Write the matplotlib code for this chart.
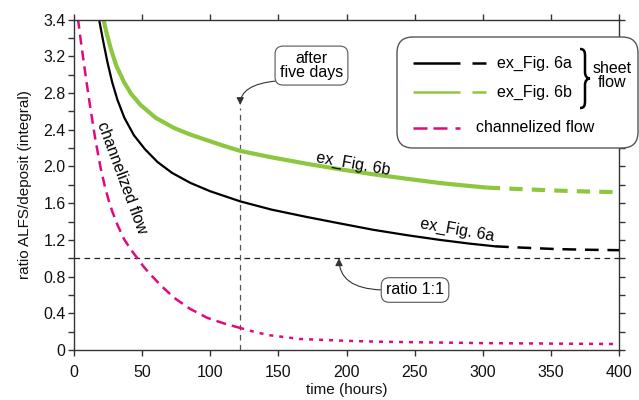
import numpy as np
import matplotlib
matplotlib.use('Agg')
import matplotlib.pyplot as plt
from matplotlib.ticker import MultipleLocator
from matplotlib.lines import Line2D
from matplotlib.patches import FancyBboxPatch, PathPatch
from matplotlib.path import Path

plt.rcParams['font.family'] = ['Liberation Sans', 'DejaVu Sans']

# ex_Fig. 6a (black), solid part then dashed tail
t_6a = [18.3, 21.5, 24.5, 28, 31.8, 37, 44, 52, 61.2, 72, 85.6, 100, 122, 145, 170.8, 195, 219.7, 245, 268.6, 290, 309]
v_6a = [3.61, 3.36, 3.14, 2.92, 2.73, 2.53, 2.34, 2.19, 2.05, 1.93, 1.82, 1.73, 1.62, 1.53, 1.45, 1.38, 1.31, 1.25, 1.20, 1.16, 1.13]
t_6a_tail = [309, 330, 354, 375, 400]
v_6a_tail = [1.13, 1.115, 1.10, 1.093, 1.088]

# ex_Fig. 6b (green)
t_6b = [21.5, 24, 26.9, 31, 36.7, 42, 48.9, 60, 73.4, 85, 97.9, 110, 122, 145, 170.8, 195, 219.7, 245, 268.6, 285, 303]
v_6b = [3.61, 3.45, 3.29, 3.10, 2.92, 2.79, 2.67, 2.53, 2.42, 2.35, 2.285, 2.225, 2.17, 2.10, 2.03, 1.97, 1.915, 1.865, 1.82, 1.795, 1.77]
t_6b_tail = [303, 330, 354, 375, 400]
v_6b_tail = [1.77, 1.752, 1.738, 1.728, 1.72]

# channelized flow (magenta)
t_ch = [2.9, 5, 7.3, 9.5, 12.2, 15.5, 19.6, 23, 25.7, 28.1, 32, 36.7, 41, 46.5, 51, 56.3, 64, 73.4, 85, 97.9, 110, 122]
v_ch = [3.61, 3.37, 3.12, 2.89, 2.62, 2.31, 1.98, 1.76, 1.62, 1.51, 1.36, 1.21, 1.11, 1.00, 0.91, 0.82, 0.70, 0.57, 0.45, 0.35, 0.29, 0.24]
t_ch_tail = [122, 133, 144, 155, 166, 183, 200, 225, 250, 275, 300, 350, 400]
v_ch_tail = [0.24, 0.195, 0.16, 0.14, 0.12, 0.11, 0.10, 0.09, 0.085, 0.08, 0.075, 0.07, 0.065]

ratio_level = 1.0
five_days = 122
five_days_top = 2.64

yticks = [0, 0.4, 0.8, 1.2, 1.6, 2.0, 2.4, 2.8, 3.2, 3.6]
yticklabels = ['0', '0.4', '0.8', '1.2', '1.6', '2.0', '2.4', '2.8', '3.2', '3.4']
xticks = [0, 50, 100, 150, 200, 250, 300, 350, 400]

green = '#8dc63f'
magenta = '#e2097c'
spine = '#333333'

fig = plt.figure(figsize=(6.39, 4.0), dpi=100)
ax = fig.add_axes([74 / 639, 1 - 350 / 400, (619 - 74) / 639, (350 - 19.7) / 400])

ax.plot(t_6a, v_6a, color='black', lw=1.6, solid_capstyle='butt')
ax.plot(t_6a_tail, v_6a_tail, color='black', lw=1.8, linestyle=(0, (5.5, 3.5)))
ax.plot(t_6b, v_6b, color=green, lw=3.0, solid_capstyle='butt')
ax.plot(t_6b_tail, v_6b_tail, color=green, lw=3.0, linestyle=(0, (3.2, 2.2)))
ax.plot(t_ch, v_ch, color=magenta, lw=1.8, linestyle=(0, (4, 2.4)))
ax.plot(t_ch_tail, v_ch_tail, color=magenta, lw=1.8, linestyle=(0, (1.6, 2.4)))

ax.axhline(ratio_level, color='#222222', lw=0.9, linestyle=(0, (4.5, 3.5)), zorder=1)
ax.plot([five_days, five_days], [0, five_days_top], color='#555555', lw=0.9,
        linestyle=(0, (4.5, 3.5)), zorder=1)

ax.set_xlim(0, 400)
ax.set_ylim(0, 3.6)
ax.set_xticks(xticks)
ax.set_xticklabels([str(x) for x in xticks])
ax.set_yticks(yticks)
ax.set_yticklabels(yticklabels)
ax.yaxis.set_minor_locator(MultipleLocator(0.2))
for s in ax.spines.values():
    s.set_color(spine)
    s.set_linewidth(1.0)
ax.tick_params(which='both', direction='out', length=4, width=1.0, color=spine,
               top=True, right=True, labelsize=11.5, labelcolor='#111111')
ax.tick_params(axis='x', pad=7)
ax.tick_params(axis='y', pad=2)
ax.set_xlabel('time (hours)', fontsize=11, labelpad=2, color='#111111')
ax.set_ylabel('ratio ALFS/deposit (integral)', fontsize=11, labelpad=8, color='#111111')

# in-plot labels
ax.text(205, 2.03, 'ex_Fig. 6b', fontsize=11.5, rotation=-10, ha='center', va='center',
        rotation_mode='anchor')
ax.text(281, 1.31, 'ex_Fig. 6a', fontsize=11.5, rotation=-10, ha='center', va='center',
        rotation_mode='anchor')
ax.text(34.9, 1.88, 'channelized flow', fontsize=11.5, rotation=-69.6, ha='center',
        va='center', rotation_mode='anchor')

box = dict(boxstyle='round,pad=0.3,rounding_size=0.5', fc='white', ec='#555555', lw=0.8)
arrow = dict(arrowstyle='-|>', color='#333333', lw=0.8, mutation_scale=11,
             connectionstyle='angle3,angleA=0,angleB=90', shrinkA=0, shrinkB=0)
ax.annotate('after\nfive days', xy=(five_days, 2.67), xytext=(174.3, 3.10),
            fontsize=11.5, ha='center', va='center', linespacing=0.95,
            bbox=box, arrowprops=dict(arrow, relpos=(0.2, 0)))
ax.annotate('ratio 1:1', xy=(194.5, ratio_level), xytext=(250.3, 0.654),
            fontsize=11.5, ha='center', va='center',
            bbox=box, arrowprops=dict(arrow, relpos=(0, 0.5)))

# legend drawn by hand in inch coordinates (1 px = 0.01 in)
tr = fig.dpi_scale_trans


def P(x, y):
    return x / 100, (400 - y) / 100


leg = FancyBboxPatch(P(397, 148), 2.41, 1.11, boxstyle='round,pad=0,rounding_size=0.16',
                     transform=tr, fc='white', ec='#555555', lw=1.0, zorder=5)
fig.add_artist(leg)


def seg(x0, x1, y, **kw):
    (a, b), (c, d) = P(x0, y), P(x1, y)
    fig.add_artist(Line2D([a, c], [b, d], transform=tr, solid_capstyle='butt', zorder=6, **kw))


seg(413, 460, 63, color='black', lw=1.8)
seg(472, 486, 63, color='black', lw=1.8)
seg(413, 460, 92, color=green, lw=1.8)
seg(472, 486, 92, color=green, lw=1.8)
seg(413, 427, 128, color=magenta, lw=1.8)
seg(433, 447, 128, color=magenta, lw=1.8)
seg(455, 460, 128, color=magenta, lw=1.8)

fig.text(*P(497, 63), 'ex_Fig. 6a', transform=tr, fontsize=11.5, va='center', zorder=6)
fig.text(*P(497, 92), 'ex_Fig. 6b', transform=tr, fontsize=11.5, va='center', zorder=6)
fig.text(*P(476, 128), 'channelized flow', transform=tr, fontsize=11.5, va='center', zorder=6)

# curly brace
brace_pts = [(580, 49), (584, 49), (585, 51), (585, 56),
             (585, 72),
             (585, 76), (587, 78.5), (590, 78.5),
             (587, 78.5), (585, 81), (585, 85),
             (585, 101),
             (585, 106), (584, 108), (580, 108)]
codes = [Path.MOVETO, Path.CURVE4, Path.CURVE4, Path.CURVE4,
         Path.LINETO,
         Path.CURVE4, Path.CURVE4, Path.CURVE4,
         Path.CURVE4, Path.CURVE4, Path.CURVE4,
         Path.LINETO,
         Path.CURVE4, Path.CURVE4, Path.CURVE4]
brace = Path([P(x, y) for x, y in brace_pts], codes)
fig.add_artist(PathPatch(brace, transform=tr, fc='none', ec='black', lw=1.8, zorder=6))
fig.text(*P(612, 75.5), 'sheet\nflow', transform=tr, fontsize=11.5, ha='center', va='center',
         linespacing=0.9, zorder=6)

fig.savefig('out.png', dpi=100)
